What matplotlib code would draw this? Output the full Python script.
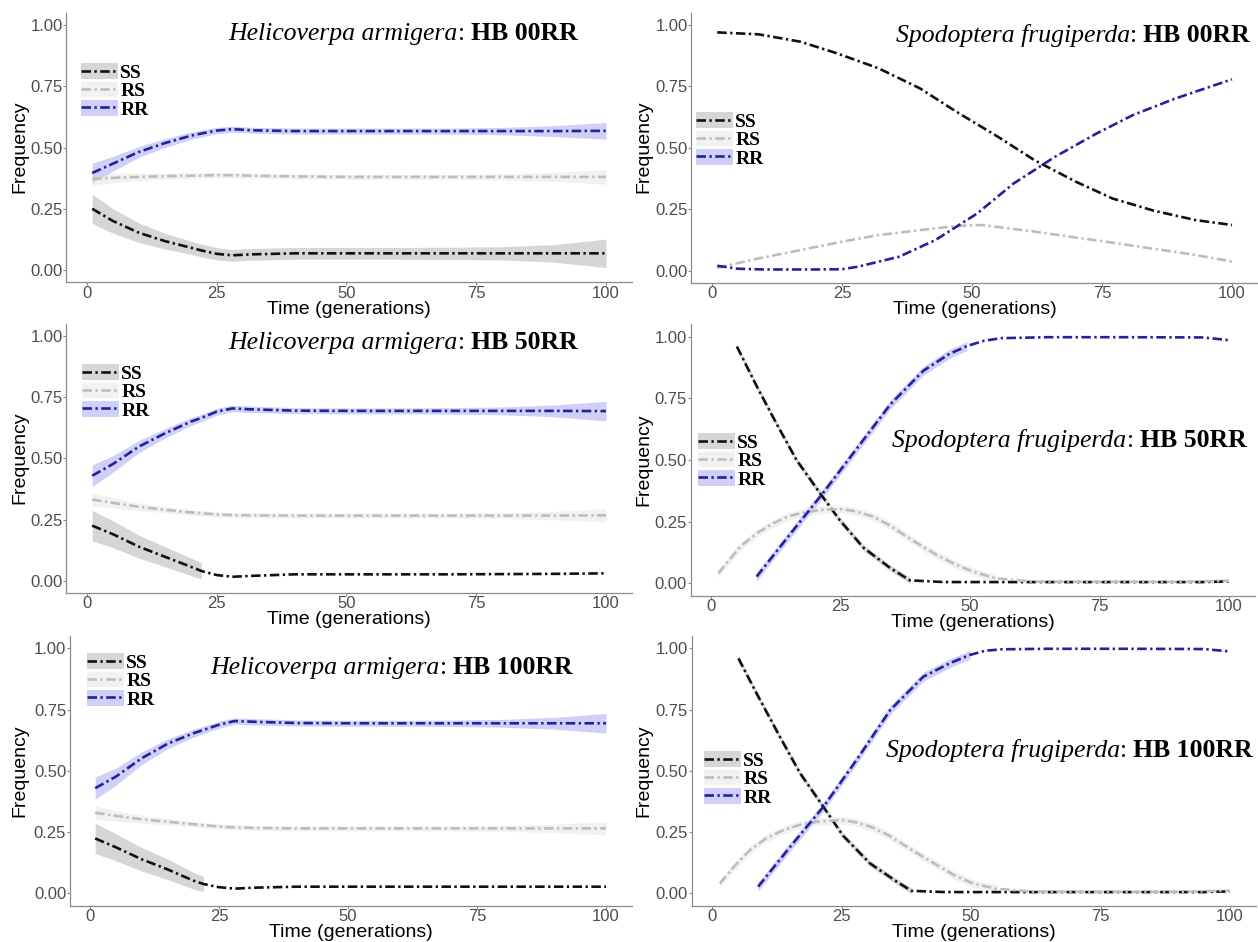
import matplotlib
matplotlib.use("Agg")
import matplotlib.pyplot as plt
import numpy as np
from matplotlib.patches import Patch
from matplotlib.lines import Line2D

W, H = 1258, 942

# ---- data ----
genotypes = ["SS", "RS", "RR"]

# Helicoverpa armigera panels share one x grid
x_ha = [1, 5, 10, 15, 20, 22, 25, 28, 32, 40, 50, 60, 70, 80, 90, 100]

ha00_ss = [0.25, 0.20, 0.152, 0.118, 0.091, 0.08, 0.066, 0.060, 0.064, 0.068, 0.068, 0.068, 0.068, 0.068, 0.068, 0.068]
ha00_ss_hw = [0.06, 0.05, 0.04, 0.032, 0.027, 0.026, 0.025, 0.024, 0.024, 0.024, 0.024, 0.024, 0.025, 0.027, 0.036, 0.058]
ha00_rs = [0.372, 0.376, 0.38, 0.383, 0.385, 0.386, 0.387, 0.387, 0.385, 0.382, 0.38, 0.38, 0.38, 0.38, 0.38, 0.38]
ha00_rs_hw = [0.027, 0.02, 0.015, 0.012, 0.011, 0.011, 0.01, 0.01, 0.01, 0.01, 0.01, 0.01, 0.01, 0.012, 0.018, 0.03]
ha00_rr = [0.396, 0.434, 0.482, 0.518, 0.548, 0.557, 0.569, 0.575, 0.57, 0.567, 0.567, 0.567, 0.567, 0.567, 0.567, 0.568]
ha00_rr_hw = [0.04, 0.03, 0.022, 0.018, 0.015, 0.014, 0.013, 0.012, 0.012, 0.012, 0.012, 0.012, 0.012, 0.015, 0.022, 0.034]

ha50_ss = [0.225, 0.19, 0.139, 0.098, 0.057, 0.04, 0.023, 0.016, 0.02, 0.026, 0.026, 0.026, 0.026, 0.027, 0.028, 0.03]
ha50_ss_hw = [0.062, 0.055, 0.047, 0.041, 0.036, 0.033, 0.01, 0.01, 0.01, 0.01, 0.01, 0.01, 0.01, 0.01, 0.01, 0.01]
ha50_rs = [0.332, 0.318, 0.302, 0.29, 0.279, 0.276, 0.271, 0.268, 0.267, 0.266, 0.266, 0.266, 0.266, 0.266, 0.266, 0.267]
ha50_rs_hw = [0.028, 0.02, 0.015, 0.012, 0.011, 0.011, 0.01, 0.01, 0.01, 0.01, 0.01, 0.01, 0.01, 0.012, 0.017, 0.027]
ha50_rr = [0.429, 0.477, 0.548, 0.602, 0.65, 0.665, 0.691, 0.704, 0.70, 0.695, 0.694, 0.694, 0.694, 0.694, 0.694, 0.693]
ha50_rr_hw = [0.044, 0.034, 0.025, 0.019, 0.016, 0.015, 0.014, 0.013, 0.013, 0.012, 0.012, 0.012, 0.013, 0.016, 0.024, 0.04]

ha100_ss = [0.224, 0.188, 0.139, 0.098, 0.052, 0.038, 0.025, 0.019, 0.023, 0.027, 0.027, 0.027, 0.027, 0.027, 0.027, 0.027]
ha100_ss_hw = [0.062, 0.055, 0.048, 0.042, 0.034, 0.031, 0.01, 0.01, 0.01, 0.01, 0.01, 0.01, 0.01, 0.01, 0.01, 0.01]
ha100_rs = [0.329, 0.316, 0.302, 0.292, 0.282, 0.278, 0.273, 0.269, 0.267, 0.265, 0.265, 0.265, 0.265, 0.265, 0.265, 0.265]
ha100_rs_hw = [0.028, 0.021, 0.016, 0.013, 0.011, 0.011, 0.01, 0.01, 0.01, 0.01, 0.01, 0.01, 0.01, 0.012, 0.017, 0.027]
ha100_rr = [0.429, 0.476, 0.551, 0.61, 0.653, 0.667, 0.688, 0.703, 0.70, 0.695, 0.694, 0.694, 0.694, 0.694, 0.694, 0.694]
ha100_rr_hw = [0.045, 0.035, 0.026, 0.02, 0.016, 0.015, 0.014, 0.013, 0.013, 0.012, 0.012, 0.012, 0.013, 0.016, 0.024, 0.04]

# Spodoptera frugiperda panels, one x list per curve
sf00_ss_x = [1, 9, 17, 24, 32, 40, 47, 55, 62, 70, 77, 85, 93, 100]
sf00_ss = [0.97, 0.962, 0.932, 0.885, 0.824, 0.742, 0.647, 0.545, 0.45, 0.362, 0.294, 0.244, 0.206, 0.186]
sf00_rs_x = [1, 9, 17, 25, 32, 40, 47, 52, 62, 77, 93, 100]
sf00_rs = [0.012, 0.05, 0.084, 0.118, 0.145, 0.165, 0.182, 0.186, 0.159, 0.114, 0.064, 0.037]
sf00_rr_x = [1, 5, 10, 20, 25, 28, 36, 43, 51, 58, 66, 74, 81, 89, 100]
sf00_rr = [0.02, 0.008, 0.005, 0.005, 0.006, 0.016, 0.057, 0.125, 0.233, 0.355, 0.464, 0.559, 0.634, 0.70, 0.779]

sf50_ss_x = [5, 8.8, 12.7, 16.5, 21.4, 24.9, 29.4, 34.6, 38.4, 45, 60, 80, 95, 100]
sf50_ss = [0.96, 0.80, 0.645, 0.50, 0.355, 0.255, 0.145, 0.062, 0.012, 0.005, 0.005, 0.005, 0.005, 0.008]
sf50_rs_x = [1.4, 5.6, 9, 12, 15, 18.5, 21.5, 24.9, 28, 31.3, 34.5, 37.8, 41, 44.2, 47.5, 50.6, 55, 62, 75, 90, 100]
sf50_rs = [0.04, 0.148, 0.205, 0.243, 0.272, 0.29, 0.298, 0.301, 0.292, 0.27, 0.235, 0.189, 0.147, 0.108, 0.074, 0.047, 0.02, 0.007, 0.006, 0.006, 0.01]
sf50_rr_x = [8.8, 15.3, 21.4, 28.1, 34.6, 41, 46, 49.4, 52.6, 56, 65, 80, 95, 100]
sf50_rr = [0.027, 0.20, 0.36, 0.545, 0.725, 0.862, 0.93, 0.962, 0.983, 0.994, 0.998, 0.998, 0.997, 0.986]

sf100_ss_x = [5.1, 8.6, 13.1, 17, 21.5, 25.3, 30.5, 35.7, 38.5, 45, 60, 80, 95, 100]
sf100_ss = [0.959, 0.816, 0.639, 0.49, 0.353, 0.235, 0.122, 0.047, 0.01, 0.005, 0.005, 0.005, 0.005, 0.008]
sf100_rs_x = [1.5, 4.5, 7.3, 10.5, 13.8, 17, 20.2, 24.8, 27.5, 30.6, 34, 37.1, 40.5, 44, 47, 50.4, 55, 62, 75, 90, 100]
sf100_rs = [0.04, 0.115, 0.176, 0.225, 0.258, 0.28, 0.292, 0.299, 0.291, 0.272, 0.238, 0.197, 0.152, 0.108, 0.071, 0.04, 0.018, 0.007, 0.006, 0.006, 0.011]
sf100_rr_x = [8.9, 15.1, 21.5, 27.9, 34.4, 40.8, 46, 49.8, 52.7, 56, 65, 80, 95, 100]
sf100_rr = [0.027, 0.19, 0.353, 0.544, 0.748, 0.884, 0.94, 0.973, 0.99, 0.996, 0.998, 0.998, 0.997, 0.987]

# ribbon half widths for the S. frugiperda curves (roughly constant)
sf_ss_hw = 0.012
sf_rs_hw = 0.016
sf_rr_hw = 0.018

xticks = [0, 25, 50, 75, 100]
yticks = [0.00, 0.25, 0.50, 0.75, 1.00]

# ---- styles ----
line_col = {"SS": "#111111", "RS": "#bdbdbd", "RR": "#22229c"}
rib_col = {"SS": "#d6d6d6", "RS": "#f1f1f1", "RR": "#cfcff7"}
dash = (0, (3.6, 1.3, 0.9, 1.3))
LW = 1.9
TICK_GRAY = "#4d4d4d"
AXIS_GRAY = "#8a8a8a"

fig = plt.figure(figsize=(W / 100, H / 100), dpi=100)


def make_axes(x0, x100, y1, y0):
    # x0/x100: pixel of x=0 and x=100; y1/y0: pixel of y=1 and y=0
    ppx = (x100 - x0) / 100.0
    ppy = (y0 - y1)
    left = x0 - 3.95 * ppx
    right = x0 + 104.95 * ppx
    top = y1 - 0.05 * ppy
    bottom = y0 + 0.05 * ppy
    ax = fig.add_axes([left / W, 1 - bottom / H, (right - left) / W, (bottom - top) / H])
    ax.set_xlim(-3.95, 104.95)
    ax.set_ylim(-0.05, 1.05)
    ax.patch.set_alpha(0)
    for s in ["top", "right"]:
        ax.spines[s].set_visible(False)
    for s in ["left", "bottom"]:
        ax.spines[s].set_color(AXIS_GRAY)
        ax.spines[s].set_linewidth(0.9)
    ax.set_xticks(xticks)
    ax.set_xticklabels([str(t) for t in xticks])
    ax.set_yticks(yticks)
    ax.set_yticklabels(["%.2f" % t for t in yticks])
    ax.tick_params(colors=AXIS_GRAY, labelcolor=TICK_GRAY, labelsize=12,
                   length=2, width=0.8, pad=0.5)
    for lab in ax.get_xticklabels() + ax.get_yticklabels():
        lab.set_family("Liberation Sans")
    return ax, (left + right) / 2, bottom


def draw_curve(ax, g, x, y, hw, rib_max=None):
    x = np.asarray(x, float)
    y = np.asarray(y, float)
    hw = np.broadcast_to(np.asarray(hw, float), y.shape)
    if rib_max is None or rib_max > 0:
        m = np.ones_like(x, bool) if rib_max is None else x <= rib_max
        ax.fill_between(x[m], (y - hw)[m], (y + hw)[m], color=rib_col[g], lw=0, zorder=1)
    return (x, y)


def draw_lines(ax, curves):
    for g, (x, y) in curves:
        ax.plot(x, y, color=line_col[g], lw=LW, ls=dash, zorder=3,
                dash_capstyle="butt")


def add_legend(ax, cx, cy):
    handles = []
    for g in genotypes:
        handles.append((Patch(facecolor=rib_col[g], edgecolor="none"),
                        Line2D([], [], color=line_col[g], lw=LW, ls=dash)))
    ax.legend(handles, genotypes, loc="center left",
              bbox_to_anchor=(cx / W, 1 - cy / H), bbox_transform=fig.transFigure,
              frameon=False, prop=dict(family="Liberation Serif", weight="bold", size=14),
              handlelength=1.9, handleheight=0.85, handletextpad=0.12,
              labelspacing=0.0, borderpad=0, borderaxespad=0)


def add_title(species, treat, right_px, base_px):
    y = 1 - base_px / H
    t3 = fig.text(right_px / W, y, treat, ha="right", va="baseline",
                  family="Liberation Serif", weight="bold", size=18.5)
    t2 = plt.annotate(": ", xy=(0, 0), xycoords=t3, ha="right", va="bottom",
                      family="Liberation Serif", size=18.5)
    plt.annotate(species, xy=(0, 0), xycoords=t2, ha="right", va="bottom",
                 family="Liberation Serif", style="italic", size=18.5)


def add_labels(xc, bottom, ylab_x, yc):
    fig.text(xc / W, 1 - (bottom + 27) / H, "Time (generations)", ha="center", va="center",
             family="Liberation Sans", size=14)
    fig.text(ylab_x / W, 1 - yc / H, "Frequency", ha="center", va="center",
             rotation=90, family="Liberation Sans", size=14)


# ---- panel 1: H. armigera HB 00RR ----
ax, xc, bot = make_axes(87, 606, 25, 270)
cur = [("SS", draw_curve(ax, "SS", x_ha, ha00_ss, ha00_ss_hw)),
       ("RS", draw_curve(ax, "RS", x_ha, ha00_rs, ha00_rs_hw)),
       ("RR", draw_curve(ax, "RR", x_ha, ha00_rr, ha00_rr_hw))]
draw_lines(ax, cur)
add_legend(ax, 81, 91)
plt.sca(ax)
add_title("Helicoverpa armigera", "HB 00RR", 578, 40)
add_labels(xc, bot, 20, 147)

# ---- panel 2: S. frugiperda HB 00RR ----
ax, xc, bot = make_axes(712, 1232, 25, 270.7)
cur = [("SS", draw_curve(ax, "SS", sf00_ss_x, sf00_ss, 0.004, 0)),
       ("RS", draw_curve(ax, "RS", sf00_rs_x, sf00_rs, 0.004, 0)),
       ("RR", draw_curve(ax, "RR", sf00_rr_x, sf00_rr, 0.004, 0))]
draw_lines(ax, cur)
add_legend(ax, 696, 140)
plt.sca(ax)
add_title("Spodoptera frugiperda", "HB 00RR", 1250, 42)
add_labels(xc, bot, 644, 147)

# ---- panel 3: H. armigera HB 50RR ----
ax, xc, bot = make_axes(87, 606, 336, 580.7)
cur = [("SS", draw_curve(ax, "SS", x_ha, ha50_ss, ha50_ss_hw, 22)),
       ("RS", draw_curve(ax, "RS", x_ha, ha50_rs, ha50_rs_hw)),
       ("RR", draw_curve(ax, "RR", x_ha, ha50_rr, ha50_rr_hw))]
draw_lines(ax, cur)
add_legend(ax, 82, 392)
plt.sca(ax)
add_title("Helicoverpa armigera", "HB 50RR", 578, 349)
add_labels(xc, bot, 20, 458)

# ---- panel 4: S. frugiperda HB 50RR ----
ax, xc, bot = make_axes(711, 1229, 336.7, 583.3)
cur = [("SS", draw_curve(ax, "SS", sf50_ss_x, sf50_ss, sf_ss_hw, 39)),
       ("RS", draw_curve(ax, "RS", sf50_rs_x, sf50_rs, sf_rs_hw, 60)),
       ("RR", draw_curve(ax, "RR", sf50_rr_x, sf50_rr, sf_rr_hw, 50))]
draw_lines(ax, cur)
add_legend(ax, 698, 461)
plt.sca(ax)
add_title("Spodoptera frugiperda", "HB 50RR", 1247, 447)
add_labels(xc, bot, 644, 460)

# ---- panel 5: H. armigera HB 100RR ----
ax, xc, bot = make_axes(90, 606, 648.3, 893.3)
cur = [("SS", draw_curve(ax, "SS", x_ha, ha100_ss, ha100_ss_hw, 22)),
       ("RS", draw_curve(ax, "RS", x_ha, ha100_rs, ha100_rs_hw)),
       ("RR", draw_curve(ax, "RR", x_ha, ha100_rr, ha100_rr_hw))]
draw_lines(ax, cur)
add_legend(ax, 87, 681)
plt.sca(ax)
add_title("Helicoverpa armigera", "HB 100RR", 573, 674)
add_labels(xc, bot, 20, 771)

# ---- panel 6: S. frugiperda HB 100RR ----
ax, xc, bot = make_axes(712, 1230, 648.3, 893.3)
cur = [("SS", draw_curve(ax, "SS", sf100_ss_x, sf100_ss, sf_ss_hw, 39)),
       ("RS", draw_curve(ax, "RS", sf100_rs_x, sf100_rs, sf_rs_hw, 60)),
       ("RR", draw_curve(ax, "RR", sf100_rr_x, sf100_rr, sf_rr_hw, 50))]
draw_lines(ax, cur)
add_legend(ax, 704, 779)
plt.sca(ax)
add_title("Spodoptera frugiperda", "HB 100RR", 1253, 757)
add_labels(xc, bot, 644, 771)

fig.savefig("out.png", dpi=100)
